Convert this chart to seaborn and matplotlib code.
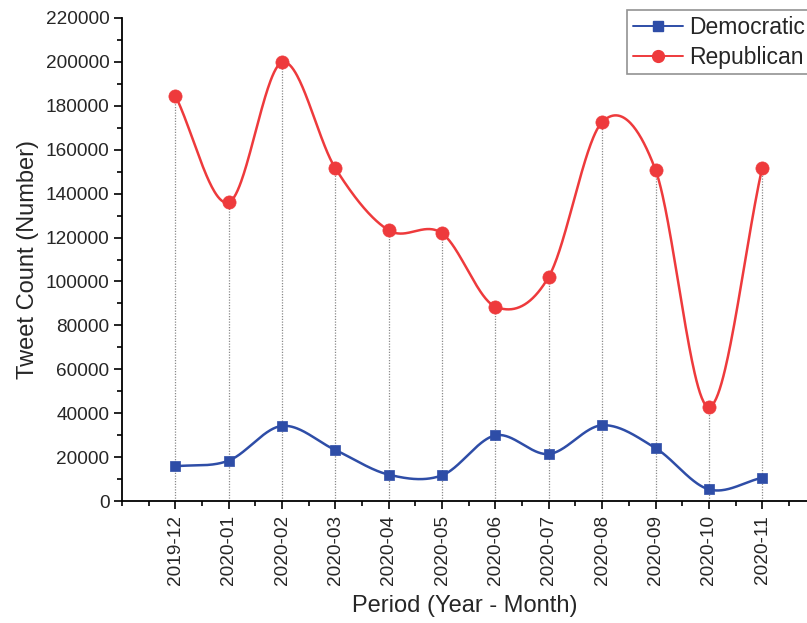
import numpy as np
import pandas as pd
import matplotlib
matplotlib.use("Agg")
import matplotlib.pyplot as plt
from matplotlib.lines import Line2D
from matplotlib.ticker import MultipleLocator
import seaborn as sns

periods = ["2019-12", "2020-01", "2020-02", "2020-03", "2020-04", "2020-05",
           "2020-06", "2020-07", "2020-08", "2020-09", "2020-10", "2020-11"]
democratic = [15800, 18400, 34200, 23200, 12000, 11700,
              29900, 21400, 34500, 24100, 5300, 10600]
republican = [184600, 136000, 199800, 151500, 123300, 121900,
              88500, 102200, 172600, 150800, 42800, 151800]

RED = "#EE3A3C"
BLUE = "#2E4DA7"


def smooth_curve(x, y, n=60):
    """Catmull-Rom (cubic Hermite) curve through every (x, y) point."""
    x = np.asarray(x, float)
    y = np.asarray(y, float)
    k = len(x)
    m = np.empty(k)
    m[1:-1] = (y[2:] - y[:-2]) / (x[2:] - x[:-2])
    m[0] = (y[1] - y[0]) / (x[1] - x[0])
    m[-1] = (y[-1] - y[-2]) / (x[-1] - x[-2])
    xs, ys = [], []
    for i in range(k - 1):
        h = x[i + 1] - x[i]
        t = np.linspace(0, 1, n, endpoint=(i == k - 2))
        h00 = 2 * t ** 3 - 3 * t ** 2 + 1
        h10 = t ** 3 - 2 * t ** 2 + t
        h01 = -2 * t ** 3 + 3 * t ** 2
        h11 = t ** 3 - t ** 2
        xs.append(x[i] + t * h)
        ys.append(h00 * y[i] + h10 * h * m[i] + h01 * y[i + 1] + h11 * h * m[i + 1])
    return np.concatenate(xs), np.concatenate(ys)


sns.set_theme(style="ticks")
plt.rcParams["font.family"] = ["Liberation Sans", "DejaVu Sans"]

pos = np.arange(len(periods))
df = pd.DataFrame({"pos": pos, "period": periods,
                   "Democratic": democratic, "Republican": republican})

fig = plt.figure(figsize=(8.07, 6.23), dpi=100)
ax = fig.add_axes([122 / 807, 1 - 501 / 623, 1 - 122 / 807, (501 - 18) / 623])

# dotted drop lines from each Republican point to the axis
ax.vlines(df["pos"], 0, df["Republican"], colors="#8a8a8a",
          linestyles=(0, (1, 1.2)), linewidth=0.9, zorder=1)

curves = []
for name in ["Democratic", "Republican"]:
    sx, sy = smooth_curve(df["pos"], df[name])
    curves.append(pd.DataFrame({"pos": sx, "value": sy, "party": name}))
curves = pd.concat(curves, ignore_index=True)

sns.lineplot(data=curves, x="pos", y="value", hue="party",
             palette={"Democratic": BLUE, "Republican": RED},
             linewidth=1.8, legend=False, ax=ax, zorder=2, estimator=None,
             sort=False)
sns.scatterplot(data=df, x="pos", y="Democratic", marker="s", s=62,
                color=BLUE, edgecolor=BLUE, linewidth=0.5, ax=ax, zorder=3)
sns.scatterplot(data=df, x="pos", y="Republican", marker="o", s=90,
                color=RED, edgecolor=RED, linewidth=0.5, ax=ax, zorder=3)

ax.set_xlim(-1, (806 - 122) / ((762 - 176) / 11) - 1)
ax.set_ylim(0, 220000)
ax.set_xticks(pos)
ax.set_xticklabels(periods, rotation=90, fontsize=13.7)
ax.xaxis.set_minor_locator(MultipleLocator(0.5))
ax.yaxis.set_major_locator(MultipleLocator(20000))
ax.yaxis.set_minor_locator(MultipleLocator(10000))
ax.tick_params(axis="y", labelsize=13.7)
ax.tick_params(which="major", length=6, width=1.2, direction="out", color="black")
ax.tick_params(which="minor", length=3.5, width=1.2, direction="out", color="black")
ax.tick_params(axis="x", which="both", pad=4)
ax.tick_params(axis="y", which="both", pad=3)

for side in ["top", "right"]:
    ax.spines[side].set_visible(False)
for side in ["left", "bottom"]:
    ax.spines[side].set_linewidth(1.3)
    ax.spines[side].set_color("black")

ax.set_xlabel("Period (Year - Month)", fontsize=17, labelpad=7)
ax.set_ylabel("Tweet Count (Number)", fontsize=17, labelpad=5)

handles = [
    Line2D([], [], color=BLUE, marker="s", markersize=7, linewidth=1.4),
    Line2D([], [], color=RED, marker="o", markersize=8.5, linewidth=1.4),
]
leg = fig.legend(handles, ["Democratic", "Republican"], loc="upper left",
                 bbox_to_anchor=(627 / 807, 1 - 10 / 623), fontsize=16.5,
                 frameon=True, fancybox=False, edgecolor="#777777",
                 handlelength=2.2, handletextpad=0.25, borderpad=0.25,
                 borderaxespad=0, labelspacing=0.3)
leg.get_frame().set_linewidth(1.2)

fig.savefig("out.png", dpi=100)
